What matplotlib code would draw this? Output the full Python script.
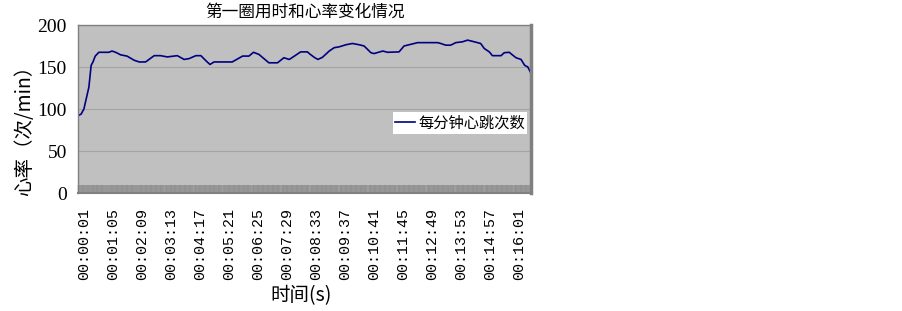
import matplotlib
matplotlib.use("Agg")
import matplotlib.pyplot as plt
import matplotlib.transforms as mtransforms

plt.rcParams['font.family'] = ['Noto Sans CJK SC', 'DejaVu Sans']

# Time (seconds) and heart rate (beats per minute)
seconds = [1, 8, 14, 25, 30, 34, 39, 47, 69, 76, 84, 95, 109, 125, 136, 150,
           169, 183, 198, 220, 235, 246, 261, 272, 283, 292, 301, 341, 364,
           378, 388, 400, 411, 422, 441, 455, 467, 481, 492, 507, 511, 522,
           530, 540, 555, 566, 577, 592, 606, 621, 632, 647, 654, 673, 684,
           709, 720, 735, 750, 794, 801, 812, 823, 834, 849, 860, 875, 889,
           897, 908, 915, 934, 941, 952, 960, 967, 978, 986, 993, 1000]
heart_rate = [92, 94, 100, 126, 152, 156, 163, 167.5, 167.5, 169, 167.5, 164.5,
              163, 158, 156, 156, 163.5, 163.5, 162, 163.5, 159, 160, 163.5,
              163.5, 157.5, 153, 156, 156, 163, 163, 167.5, 165, 160, 155, 155,
              161, 159, 164, 168, 168, 166, 161.5, 159, 161.5, 169, 173, 174,
              176.5, 178, 176.5, 175, 167, 166, 169, 167.5, 168, 175, 177, 179,
              179, 178, 176, 176, 179, 180, 182, 180, 178, 172, 168, 163.5,
              163.5, 167, 167.5, 164, 161, 159, 152, 150, 142.5]

tick_seconds = [1, 65, 129, 193, 257, 321, 385, 449, 513, 577, 641, 705, 769,
                833, 897, 961]
tick_labels = ['00:00:01', '00:01:05', '00:02:09', '00:03:13', '00:04:17',
               '00:05:21', '00:06:25', '00:07:29', '00:08:33', '00:09:37',
               '00:10:41', '00:11:45', '00:12:49', '00:13:53', '00:14:57',
               '00:16:01']
y_ticks = [0, 50, 100, 150, 200]

title = '第一圈用时和心率变化情况'
series_name = '每分钟心跳次数'
x_label = '时间(s)'
y_label = '心率（次/min）'

W, H = 903, 311
fig = plt.figure(figsize=(W / 100, H / 100), dpi=100)
fig.patch.set_facecolor('white')
ax = fig.add_axes([78 / W, 1 - 193 / H, (531 - 78) / W, (193 - 25) / H])
ax.set_facecolor('#c0c0c0')

ax.plot(seconds, heart_rate, color='#000080', lw=1.2, label=series_name)

ax.set_xlim(seconds[0], seconds[-1])
ax.set_ylim(0, 200)
ax.set_yticks(y_ticks)
ax.set_yticklabels([str(v) for v in y_ticks], family='Liberation Serif',
                   fontsize=14)
ax.set_xticks(tick_seconds)
ax.set_xticklabels(tick_labels, rotation=90, family='Liberation Mono',
                   fontsize=10.8, va='top', ha='center')
# dense inward category tick band
ax.set_xticks(list(range(seconds[0], seconds[-1] + 1)), minor=True)
ax.tick_params(axis='x', which='minor', direction='in', length=6,
               width=0.3, color='#808080')
ax.tick_params(axis='x', which='major', length=0, pad=11)
ax.tick_params(axis='y', which='major', length=0, pad=8)

offset = mtransforms.ScaledTranslation(6 / 100, 0, fig.dpi_scale_trans)
for lbl in ax.get_xticklabels():
    lbl.set_transform(lbl.get_transform() + offset)

ax.yaxis.grid(True, color='#a4a4a4', lw=0.8)
ax.set_axisbelow(True)
for side, sp in ax.spines.items():
    sp.set_color('#808080')
    sp.set_linewidth(1.0)
ax.spines['right'].set_linewidth(2.5)
ax.spines['bottom'].set_linewidth(1.5)

fig.text(305 / W, 1 - 12 / H, title, ha='center', va='center', fontsize=12)
fig.text(301 / W, 1 - 296 / H, x_label, ha='center', va='center',
         fontsize=14)
fig.text(25 / W, 1 - 126 / H, y_label, ha='center', va='center',
         rotation=90, fontsize=14)

leg = fig.legend(loc='upper left', bbox_to_anchor=(393 / W, 1 - 112 / H),
                 frameon=True, fancybox=False, framealpha=1,
                 edgecolor='white', facecolor='white', fontsize=11,
                 borderpad=0.15, handlelength=1.3, handletextpad=0.2,
                 borderaxespad=0)
leg.get_frame().set_linewidth(0)

fig.savefig('out.png', dpi=100)
